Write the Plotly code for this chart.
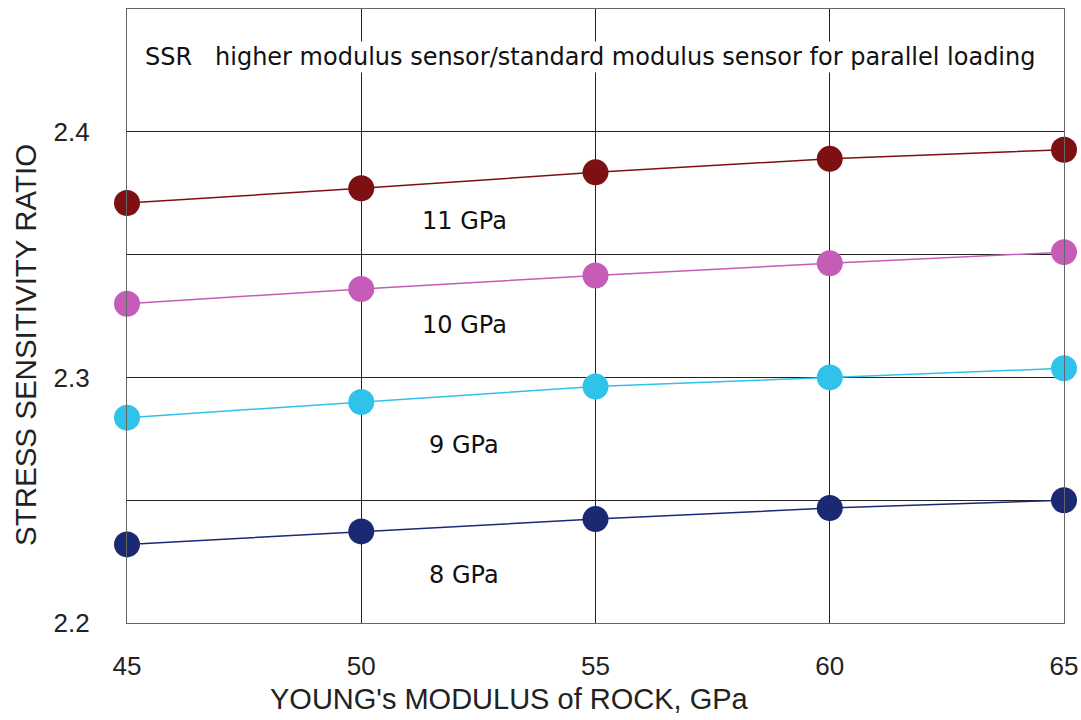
import plotly.graph_objects as go

x_modulus = [45, 50, 55, 60, 65]
ssr_11 = [2.371, 2.377, 2.3835, 2.389, 2.3927]
ssr_10 = [2.330, 2.336, 2.3415, 2.3465, 2.351]
ssr_9 = [2.2836, 2.290, 2.2963, 2.300, 2.3037]
ssr_8 = [2.232, 2.2373, 2.2423, 2.2468, 2.250]

series_names = ["11 GPa", "10 GPa", "9 GPa", "8 GPa"]
series_values = [ssr_11, ssr_10, ssr_9, ssr_8]
series_colors = ["#7d1012", "#c55cb8", "#2fc2ea", "#1b2873"]
label_y = [2.3638, 2.3215, 2.2724, 2.2195]
label_x = 52.2

y_tickvals = [2.2, 2.25, 2.3, 2.35, 2.4, 2.45]
y_ticktext = ["2.2", "", "2.3", "", "2.4", ""]
x_tickvals = [45, 50, 55, 60, 65]

title_text = "SSR   higher modulus sensor/standard modulus sensor for parallel loading"

L, R, T, B = 127, 17, 9, 97
W, H = 1081, 720
pw, ph = W - L - R, H - T - B

fig = go.Figure()
for name, vals, col in zip(series_names, series_values, series_colors):
    fig.add_trace(go.Scatter(
        x=x_modulus, y=vals, mode="lines+markers", name=name,
        line=dict(color=col, width=1.5),
        marker=dict(color=col, size=26),
        cliponaxis=False,
    ))

gothic = "DejaVu Sans"
for name, yv in zip(series_names, label_y):
    fig.add_annotation(x=label_x, y=yv, text=name, showarrow=False,
                       font=dict(family=gothic, size=24, color="#111"))

fig.add_annotation(x=(590 - L) / pw, y=2.4305, xref="paper", yref="y", text=title_text,
                   showarrow=False, bgcolor="white",
                   font=dict(family=gothic, size=24, color="#111"))

fig.add_annotation(x=(509 - L) / pw, y=(H - B - 699) / ph, xref="paper", yref="paper",
                   yanchor="middle", xanchor="center",
                   text="YOUNG's MODULUS of ROCK, GPa", showarrow=False,
                   font=dict(family="Liberation Sans", size=29, color="#222"))

fig.add_annotation(x=(25 - L) / pw, y=(H - B - 345) / ph, xref="paper", yref="paper",
                   yanchor="middle", xanchor="center", textangle=-90,
                   text="STRESS SENSITIVITY RATIO", showarrow=False,
                   font=dict(family="Liberation Sans", size=29.5, color="#222"))

fig.update_layout(
    width=W, height=H,
    margin=dict(l=L, r=R, t=T, b=B),
    paper_bgcolor="white", plot_bgcolor="white",
    showlegend=False,
)
fig.update_xaxes(
    range=[45, 65], tickvals=x_tickvals, automargin=False,
    showgrid=True, gridcolor="#222", gridwidth=1.4,
    showline=True, linecolor="#666", linewidth=1.2, mirror=True,
    zeroline=False, ticks="", ticklabelstandoff=20,
    tickfont=dict(family="Liberation Sans", size=26, color="#222"),
)
fig.update_yaxes(
    range=[2.2, 2.45], tickvals=y_tickvals, ticktext=y_ticktext, automargin=False,
    showgrid=True, gridcolor="#222", gridwidth=1.4,
    showline=True, linecolor="#666", linewidth=1.2, mirror=True,
    zeroline=False, ticks="", ticklabelstandoff=31,
    tickfont=dict(family="Liberation Sans", size=26, color="#222"),
)

fig.write_html("out.html")
